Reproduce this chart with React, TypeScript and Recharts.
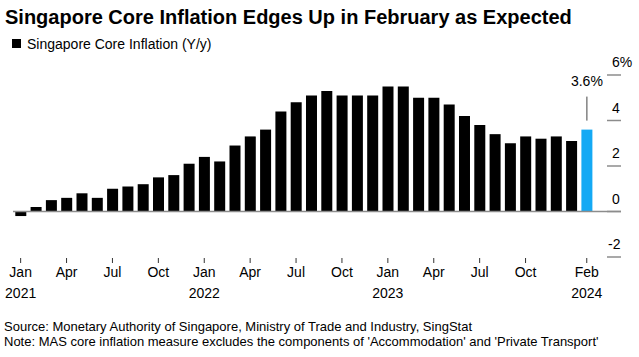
import { BarChart, Bar, XAxis, YAxis, ReferenceLine, Cell } from "recharts";

const months = [
  "Jan 2021", "Feb 2021", "Mar 2021", "Apr 2021", "May 2021", "Jun 2021",
  "Jul 2021", "Aug 2021", "Sep 2021", "Oct 2021", "Nov 2021", "Dec 2021",
  "Jan 2022", "Feb 2022", "Mar 2022", "Apr 2022", "May 2022", "Jun 2022",
  "Jul 2022", "Aug 2022", "Sep 2022", "Oct 2022", "Nov 2022", "Dec 2022",
  "Jan 2023", "Feb 2023", "Mar 2023", "Apr 2023", "May 2023", "Jun 2023",
  "Jul 2023", "Aug 2023", "Sep 2023", "Oct 2023", "Nov 2023", "Dec 2023",
  "Jan 2024", "Feb 2024",
];

const coreInflation = [
  -0.2, 0.2, 0.5, 0.6, 0.8, 0.6, 1.0, 1.1, 1.2, 1.5, 1.6, 2.1,
  2.4, 2.2, 2.9, 3.3, 3.6, 4.4, 4.8, 5.1, 5.3, 5.1, 5.1, 5.1,
  5.5, 5.5, 5.0, 5.0, 4.7, 4.2, 3.8, 3.4, 3.0, 3.3, 3.2, 3.3,
  3.1, 3.6,
];

// month label, year label
const xTickLabels: Record<string, [string, string]> = {
  "Jan 2021": ["Jan", "2021"],
  "Apr 2021": ["Apr", ""],
  "Jul 2021": ["Jul", ""],
  "Oct 2021": ["Oct", ""],
  "Jan 2022": ["Jan", "2022"],
  "Apr 2022": ["Apr", ""],
  "Jul 2022": ["Jul", ""],
  "Oct 2022": ["Oct", ""],
  "Jan 2023": ["Jan", "2023"],
  "Apr 2023": ["Apr", ""],
  "Jul 2023": ["Jul", ""],
  "Oct 2023": ["Oct", ""],
  "Feb 2024": ["Feb", "2024"],
};

const yTicks = [-2, 0, 2, 4, 6];

const FONT = "'Liberation Sans', Arial, Helvetica, sans-serif";
const BLACK = "#000000";
const BLUE = "#14a9f4";
const LAST = coreInflation.length - 1;

const data = months.map((m, i) => ({ month: m, value: coreInflation[i] }));

function XTick(props: any) {
  const { x, y, payload } = props;
  const lab = xTickLabels[payload.value];
  if (!lab) return null;
  return (
    <g>
      <line x1={x} x2={x} y1={y + 1} y2={y + 6} stroke="#333" strokeWidth={1} />
      <text x={x} y={y + 15} dy="0.355em" textAnchor="middle" fontSize={14} fill="#000" fontFamily={FONT}>
        {lab[0]}
      </text>
      {lab[1] && (
        <text x={x} y={y + 36} dy="0.355em" textAnchor="middle" fontSize={14} fill="#000" fontFamily={FONT}>
          {lab[1]}
        </text>
      )}
    </g>
  );
}

function YTick(props: any) {
  const { x, y, payload } = props;
  const v = payload.value;
  const label = v === 6 ? "6%" : String(v);
  return (
    <g>
      <line x1={x - 14} x2={x} y1={y} y2={y} stroke="#8c8c8c" strokeWidth={1.5} />
      <text x={x - 9 - (v < 0 ? 4 : 0)} y={y - 12.5} dy="0.355em" textAnchor="start" fontSize={14} fill="#000" fontFamily={FONT}>
        {label}
      </text>
    </g>
  );
}

function LastLabel(props: any) {
  const { x, y, width, index } = props;
  if (index !== LAST) return null;
  const cx = x + width / 2;
  return (
    <g>
      <line x1={cx} x2={cx} y1={y - 33} y2={y - 9} stroke="#444" strokeWidth={1} />
      <text x={cx} y={y - 49} dy="0.355em" textAnchor="middle" fontSize={14} fill="#000" fontFamily={FONT}>
        {coreInflation[LAST].toFixed(1)}%
      </text>
    </g>
  );
}

export default function App() {
  return (
    <div style={{ position: "absolute", left: 0, top: 0, width: 639, height: 357, background: "#fff", fontFamily: FONT, overflow: "hidden" }}>
      <div style={{ position: "absolute", left: 5, top: 7, fontSize: 20, lineHeight: "20px", fontWeight: 700, color: "#000", whiteSpace: "nowrap" }}>
        Singapore Core Inflation Edges Up in February as Expected
      </div>
      <div style={{ position: "absolute", left: 12, top: 39, width: 9, height: 9, background: BLACK }} />
      <div style={{ position: "absolute", left: 27, top: 35.5, fontSize: 14, lineHeight: "16px", color: "#000", whiteSpace: "nowrap" }}>
        Singapore Core Inflation (Y/y)
      </div>
      <div style={{ position: "absolute", left: 0, top: 0 }}>
        <BarChart
          width={639}
          height={357}
          data={data}
          margin={{ top: 75, right: 0, bottom: 40, left: 13 }}
          barCategoryGap="15%"
        >
          <XAxis
            dataKey="month"
            interval={0}
            axisLine={false}
            tickLine={false}
            tickSize={0}
            tickMargin={0}
            height={60}
            padding={{ left: 0, right: 26.6 }}
            tick={(p: any) => <XTick {...p} />}
          />
          <YAxis
            orientation="right"
            width={18}
            domain={[-2, 6]}
            ticks={yTicks}
            axisLine={false}
            tickLine={false}
            tickSize={0}
            tickMargin={0}
            tick={(p: any) => <YTick {...p} />}
          />
          <ReferenceLine y={0} stroke="#8c8c8c" strokeWidth={1.5} />
          <Bar dataKey="value" isAnimationActive={false} label={(p: any) => <LastLabel {...p} />}>
            {data.map((d, i) => (
              <Cell key={d.month} fill={i === LAST ? BLUE : BLACK} />
            ))}
          </Bar>
        </BarChart>
      </div>
      <div style={{ position: "absolute", left: 4, top: 318.5, fontSize: 13, lineHeight: "15px", color: "#000", whiteSpace: "nowrap" }}>
        <div>Source: Monetary Authority of Singapore, Ministry of Trade and Industry, SingStat</div>
        <div>Note: MAS core inflation measure excludes the components of 'Accommodation' and 'Private Transport'</div>
      </div>
    </div>
  );
}
